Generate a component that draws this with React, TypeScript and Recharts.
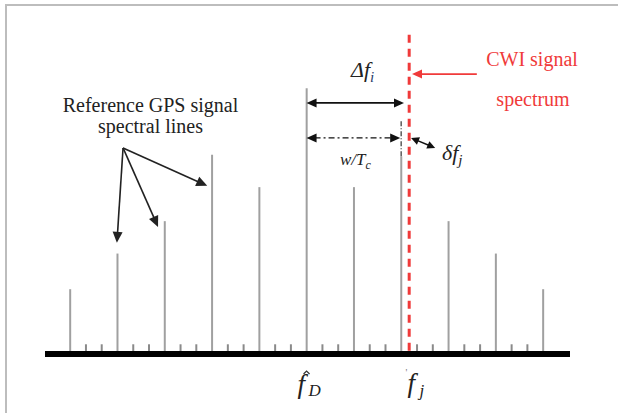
import { ComposedChart, Bar, XAxis, YAxis, ReferenceLine } from 'recharts';

// spectral lines (index along the frequency axis) and their heights
const lineIndex = [0, 1, 2, 3, 4, 5, 6, 7, 8, 9, 10];
const lineHeight = [2.0, 3.1, 4.1, 6.15, 5.15, 8.2, 5.15, 6.1, 4.1, 3.1, 2.0];
const minorTickOffsets = [1 / 3, 2 / 3];
const minorTickHeight = 0.3;

// CWI line + annotation positions (in axis units)
const cwiPos = 7.17;
const cwiTop = 9.85;
const fdPos = 5;
const fjPos = 7.2;
const dashTop = 7.2;
const deltaY = 7.75;
const deltaEnd = 7.06;
const wTcY = 6.67;
const wTcEnd = 6.98;
const pointerFrom = { x: 1.12, y: 6.36 };
const pointerTo = [
  { x: 0.99, y: 3.43 },
  { x: 1.86, y: 3.92 },
  { x: 2.9, y: 5.19 },
];

const data = [
  ...lineIndex.map((x, i) => ({ x, line: lineHeight[i] })),
  ...lineIndex.slice(0, -1).flatMap((x) => minorTickOffsets.map((o) => ({ x: x + o, tick: minorTickHeight }))),
].sort((a, b) => a.x - b.x);

const RED = '#f03a3a';
const SERIF = '"Liberation Serif", "Times New Roman", serif';

const arrow = (color: string, w: number, dash: string | undefined, startHead: boolean, endHead: boolean, hl = 10, hw = 4.5) =>
  (p: any) => {
    const { x1, y1, x2, y2 } = p;
    const dx = x2 - x1;
    const dy = y2 - y1;
    const len = Math.hypot(dx, dy) || 1;
    const ux = dx / len;
    const uy = dy / len;
    const head = (tx: number, ty: number, px: number, py: number) => {
      const bx = tx - px * hl;
      const by = ty - py * hl;
      return `${tx},${ty} ${bx - py * hw},${by + px * hw} ${bx + py * hw},${by - px * hw}`;
    };
    const sx = startHead ? x1 + ux * hl * 0.8 : x1;
    const sy = startHead ? y1 + uy * hl * 0.8 : y1;
    const ex = endHead ? x2 - ux * hl * 0.8 : x2;
    const ey = endHead ? y2 - uy * hl * 0.8 : y2;
    return (
      <g>
        <line x1={sx} y1={sy} x2={ex} y2={ey} stroke={color} strokeWidth={w} strokeDasharray={dash} />
        {startHead && <polygon points={head(x1, y1, -ux, -uy)} fill={color} />}
        {endHead && <polygon points={head(x2, y2, ux, uy)} fill={color} />}
      </g>
    );
  };

const FTick = (props: any) => {
  const { x, y, payload } = props;
  const isD = payload.value === fdPos;
  if (isD) {
    return (
      <g fontFamily={SERIF} fill="#222" fontStyle="italic">
        <text x={x - 9} y={y + 39} fontSize={27}>f</text>
        <path d={`M${x - 3},${y + 20} l3,-3 l3,3`} stroke="#333" strokeWidth={1.2} fill="none" />
        <text x={x + 2} y={y + 42} fontSize={17}>D</text>
      </g>
    );
  }
  return (
    <g fontFamily={SERIF} fill="#222" fontStyle="italic">
      <text x={x - 3} y={y + 38} fontSize={27}>f</text>
      <text x={x + 9} y={y + 42} fontSize={17}>j</text>
      <text x={x - 5} y={y + 22} fontSize={10} fill="#777" fontStyle="normal">'</text>
    </g>
  );
};

const App = () => {
  return (
    <div
      style={{
        position: 'fixed',
        left: 0,
        top: 0,
        width: 618,
        height: 413,
        background: '#fff',
        overflow: 'hidden',
      }}
    >
      <div
        style={{
          position: 'absolute',
          left: 5,
          top: 4,
          right: 0,
          bottom: 0,
          borderLeft: '2px solid #bdbdbd',
          borderTop: '2px solid #bdbdbd',
        }}
      />
      <div style={{ position: 'absolute', left: 0, top: 0 }}>
        <ComposedChart
          width={618}
          height={413}
          data={data}
          margin={{ top: 30, right: 48, bottom: 0, left: 45 }}
        >
          <YAxis hide type="number" domain={[0, 10]} allowDataOverflow />
          <Bar dataKey="line" stackId="s" fill="#a0a0a0" barSize={2} isAnimationActive={false} />
          <Bar dataKey="tick" stackId="s" fill="#8a8a8a" barSize={2} isAnimationActive={false} />
          <XAxis
            type="number"
            dataKey="x"
            domain={[-0.53, 10.57]}
            allowDataOverflow
            ticks={[fdPos, fjPos]}
            interval={0}
            tick={FTick}
            tickLine={false}
            tickSize={0}
            tickMargin={0}
            axisLine={{ stroke: '#000', strokeWidth: 6 }}
            height={59}
          />

          {/* dash-dot extension of the line nearest the CWI */}
          <ReferenceLine
            segment={[{ x: 7, y: lineHeight[7] }, { x: 7, y: dashTop }]}
            stroke="#333"
            strokeWidth={1.2}
            strokeDasharray="5 2 1 2"
            ifOverflow="visible"
          />
          {/* CWI dashed line */}
          <ReferenceLine
            segment={[{ x: cwiPos, y: 0.1 }, { x: cwiPos, y: cwiTop }]}
            stroke={RED}
            strokeWidth={3}
            strokeDasharray="8 6"
            ifOverflow="visible"
          />
          {/* Δf arrow */}
          <ReferenceLine
            segment={[{ x: 5, y: deltaY }, { x: deltaEnd, y: deltaY }]}
            shape={arrow('#111', 1.6, undefined, true, true)}
            ifOverflow="visible"
          />
          {/* w/Tc arrow */}
          <ReferenceLine
            segment={[{ x: 5, y: wTcY }, { x: wTcEnd, y: wTcY }]}
            shape={arrow('#111', 1.3, '6 3 2 3', true, true)}
            ifOverflow="visible"
          />
          {/* δf arrow */}
          <ReferenceLine
            segment={[{ x: 7.21, y: wTcY }, { x: 7.72, y: 6.36 }]}
            shape={arrow('#111', 1.5, undefined, true, true, 8, 4)}
            ifOverflow="visible"
          />
          {/* CWI pointer */}
          <ReferenceLine
            segment={[{ x: 8.6, y: 8.64 }, { x: 7.23, y: 8.64 }]}
            shape={arrow(RED, 1.8, undefined, false, true)}
            ifOverflow="visible"
          />
          {pointerTo.map((t, i) => (
            <ReferenceLine
              key={i}
              segment={[pointerFrom, t]}
              shape={arrow('#222', 1.6, undefined, false, true, 11, 5)}
              ifOverflow="visible"
            />
          ))}

          <g fontFamily={SERIF} fontSize={20}>
            <text x={150.5} y={112} textAnchor="middle" fill="#222">Reference GPS signal</text>
            <text x={150.5} y={133} textAnchor="middle" fill="#222">spectral lines</text>
            <text x={532} y={66} textAnchor="middle" fill={RED}>CWI signal</text>
            <text x={533} y={106} textAnchor="middle" fill={RED}>spectrum</text>
          </g>
          <g fontFamily={SERIF} fontStyle="italic" fill="#222">
            <text x={351} y={77} fontSize={22}>
              Δ<tspan>f</tspan>
              <tspan dy={5} fontSize={15} fill="#2a3c6a">i</tspan>
            </text>
            <text x={340} y={165} fontSize={17}>
              w/T<tspan dy={4} fontSize={12}>c</tspan>
            </text>
            <text x={442} y={160} fontSize={22}>
              δf<tspan dy={5} fontSize={15}>j</tspan>
            </text>
          </g>
        </ComposedChart>
      </div>
    </div>
  );
};

export default App;
